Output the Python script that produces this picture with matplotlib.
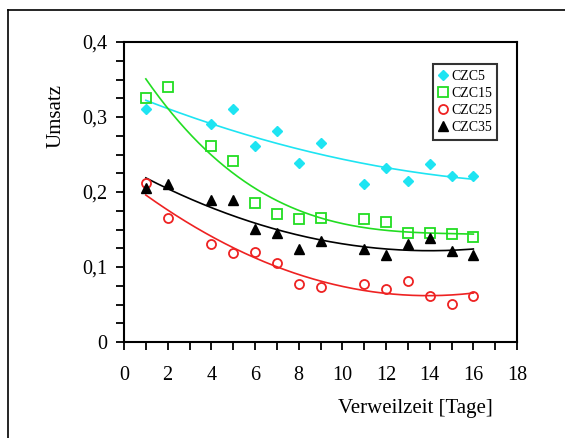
import matplotlib
matplotlib.use("Agg")
import matplotlib.pyplot as plt
import numpy as np
from matplotlib.lines import Line2D
from matplotlib.ticker import FuncFormatter, MultipleLocator

plt.rcParams['font.family'] = ['Liberation Serif', 'DejaVu Serif']

# Verweilzeit in Tagen
tage = [1, 2, 4, 5, 6, 7, 8, 9, 11, 12, 13, 14, 15, 16]
tage_czc5 = [1, 4, 5, 6, 7, 8, 9, 11, 12, 13, 14, 15, 16]

# Umsatz values
czc5 = [0.311, 0.291, 0.311, 0.261, 0.281, 0.239, 0.266, 0.211, 0.232, 0.215, 0.238, 0.222, 0.221]
czc15 = [0.326, 0.340, 0.261, 0.241, 0.186, 0.171, 0.164, 0.166, 0.164, 0.160, 0.145, 0.145, 0.144, 0.140]
czc25 = [0.212, 0.166, 0.131, 0.119, 0.120, 0.106, 0.078, 0.074, 0.077, 0.071, 0.081, 0.061, 0.051, 0.061]
czc35 = [0.205, 0.211, 0.190, 0.190, 0.151, 0.146, 0.124, 0.135, 0.124, 0.116, 0.131, 0.139, 0.121, 0.116]

# name, x, y, colour, marker, size, filled, degree of fit
series = [
    ("CZC5", tage_czc5, czc5, "#1EE4F2", "D", 5.0, True, 2),
    ("CZC15", tage, czc15, "#22DD22", "s", 6.5, False, 3),
    ("CZC25", tage, czc25, "#EE2222", "o", 6.5, False, 2),
    ("CZC35", tage, czc35, "black", "^", 6.5, True, 2),
]

fig = plt.figure(figsize=(5.65, 4.38), dpi=100)
ax = fig.add_axes([124 / 565, 1 - 342 / 438, 393 / 565, 300 / 438])

xs = np.linspace(1, 16, 200)
for name, x, y, col, mk, ms, filled, deg in series:
    coef = np.polyfit(x, y, deg)
    ax.plot(xs, np.polyval(coef, xs), color=col, lw=1.2, zorder=2)
    if filled:
        ax.plot(x, y, ls="none", marker=mk, ms=ms, color=col, mec=col, label=name, zorder=3)
    else:
        ax.plot(x, y, ls="none", marker=mk, ms=ms, mfc="none", mec=col, mew=1.3, label=name, zorder=3)

ax.set_xlim(0, 18)
ax.set_ylim(0, 0.4)
ax.xaxis.set_major_locator(MultipleLocator(2))
ax.xaxis.set_minor_locator(MultipleLocator(1))
ax.yaxis.set_major_locator(MultipleLocator(0.1))
ax.yaxis.set_minor_locator(MultipleLocator(0.025))
ax.yaxis.set_major_formatter(FuncFormatter(lambda v, p: "0" if abs(v) < 1e-9 else f"{v:.1f}".replace(".", ",")))
ax.tick_params(which="both", direction="out", length=6, width=1.3, labelsize=14.5)
ax.tick_params(axis="x", pad=11)
ax.tick_params(axis="y", pad=6)
for s in ax.spines.values():
    s.set_linewidth(1.5)

leg = ax.legend(loc="upper left", bbox_to_anchor=(433 / 565, 1 - 64 / 438), bbox_transform=fig.transFigure,
                borderaxespad=0, fontsize=10, frameon=True, fancybox=False, edgecolor="black",
                handlelength=0.7, handletextpad=0.2, labelspacing=0.3, borderpad=0.4)
leg.get_frame().set_linewidth(1.5)

fig.text(56 / 565, 1 - 116 / 438, "Umsatz", rotation=90, ha="center", va="center", fontsize=15)
fig.text(415 / 565, 1 - 409 / 438, "Verweilzeit [Tage]", ha="center", va="center", fontsize=15)

# outer frame (top and left edge)
fig.add_artist(Line2D([7.5 / 565, 1], [1 - 9.5 / 438, 1 - 9.5 / 438], color="black", lw=1.2, transform=fig.transFigure))
fig.add_artist(Line2D([7.5 / 565, 7.5 / 565], [0, 1 - 9.5 / 438], color="black", lw=1.2, transform=fig.transFigure))

fig.savefig("out.png", dpi=100)
